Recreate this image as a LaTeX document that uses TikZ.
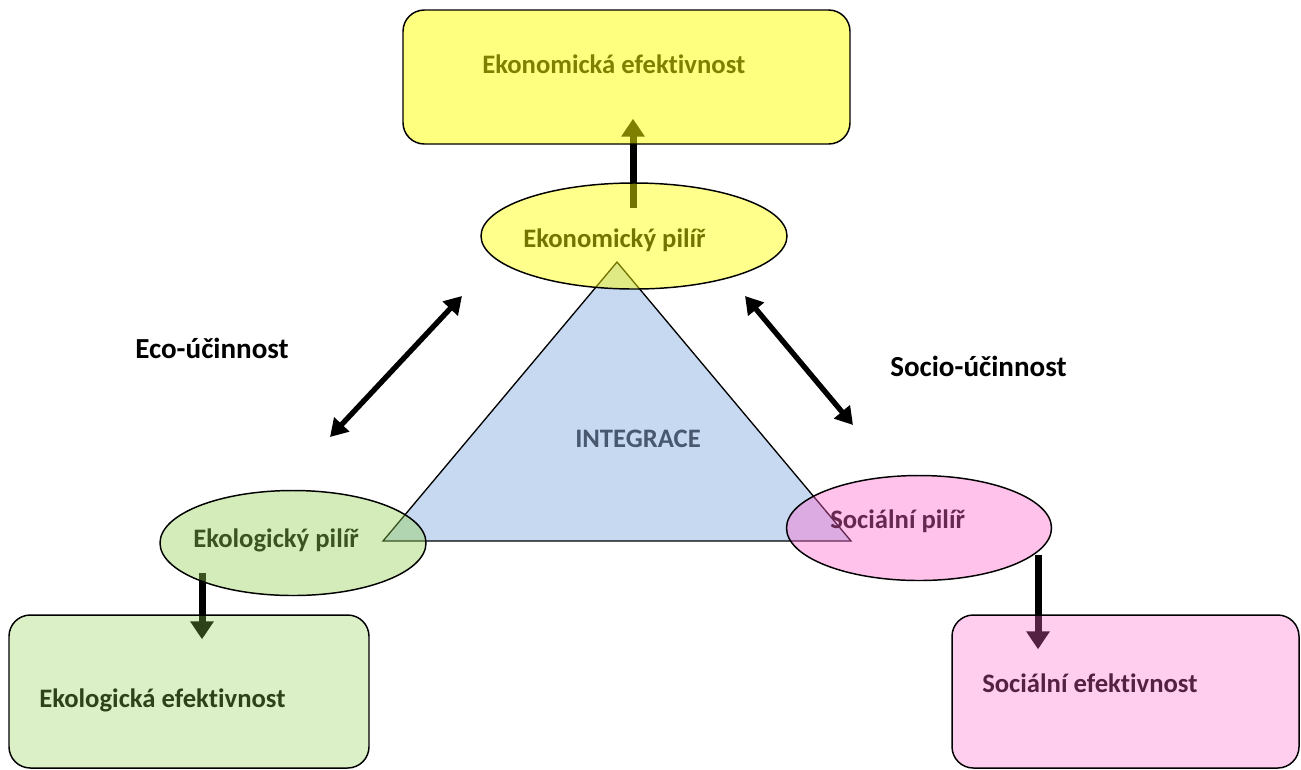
\documentclass[tikz,border=0pt]{standalone}
\usepackage{fontspec}
\setmainfont{Carlito}[Ligatures=NoCommon]
\usetikzlibrary{shapes.geometric,arrows.meta,calc}
\pgfdeclarelayer{under}
\pgfsetlayers{under,main}
\definecolor{pyellow}{RGB}{255,255,0}
\definecolor{pgreen}{RGB}{146,208,80}
\definecolor{ppink}{RGB}{255,102,204}
\definecolor{tribg}{RGB}{198,217,241}
\definecolor{intxt}{RGB}{72,88,110}
\tikzset{
  pillar/.style={ellipse, draw=black, line width=1.1pt, inner sep=0pt},
  effbox/.style={rectangle, rounded corners=16pt, draw=black, line width=1.1pt, inner sep=0pt},
  lbl/.style={inner sep=0pt, anchor=base west, font=\bfseries\fontsize{20}{24}\selectfont},
  biglbl/.style={lbl, font=\bfseries\fontsize{21.8}{26}\selectfont},
  flowarrow/.style={line width=5.25pt, -{Triangle[width=17pt,length=13.5pt]}},
  linkarrow/.style={line width=4pt, {Triangle[width=15pt,length=13pt]}-{Triangle[width=15pt,length=13pt]}}
}
\begin{document}
\begin{tikzpicture}[x=0.75pt,y=-0.75pt]
\useasboundingbox (0,0) rectangle (1301,769);

% translucent pillars and result boxes
\node[effbox, fill=pyellow, fill opacity=0.5, minimum width=335.25pt, minimum height=100.5pt] (ekoneff) at (626.5,77) {};
\node[effbox, fill=pgreen, fill opacity=0.32, minimum width=270pt, minimum height=114.75pt] (ekoleff) at (189,691.5) {};
\node[effbox, fill=ppink, fill opacity=0.33, minimum width=260.25pt, minimum height=114.75pt] (soceff) at (1125.5,691.5) {};
\node[pillar, fill=pyellow, fill opacity=0.45, minimum width=229.5pt, minimum height=79.5pt] (ekonp) at (634,236) {};
\node[pillar, fill=pgreen, fill opacity=0.4, minimum width=199.5pt, minimum height=78.75pt] (ekolp) at (293,543) {};
\node[pillar, fill=ppink, fill opacity=0.4, minimum width=198.75pt, minimum height=78.75pt] (socp) at (919,528) {};

\begin{pgfonlayer}{under}
  % integration triangle
  \draw[fill=tribg, line width=1pt, line join=miter] (617,262) -- (383,541) -- (851,541) -- cycle;
  \node[lbl, text=intxt] (integ) at (575,447) {INTEGRACE};

  % texts lying below the translucent fills
  \node[lbl] (tekoneff) at (482,73) {Ekonomická efektivnost};
  \node[lbl] (tekonp) at (523,247) {Ekonomický pilíř};
  \node[lbl] (tekolp) at (193,547) {Ekologický pilíř};
  \node[lbl] (tsocp) at (830,528) {Sociální pilíř};
  \node[lbl] (tekoleff) at (39,707) {Ekologická efektivnost};
  \node[lbl] (tsoceff) at (982,692) {Sociální efektivnost};

  % flows from each pillar to its efficiency
  \draw[flowarrow] ($(ekonp.center)+(-1,-28)$) -- ($(ekoneff.south)+(6.5,-26)$);
  \draw[flowarrow] ($(ekolp.center)+(-91,30)$) -- ($(ekoleff.north)+(13,25)$);
  \draw[flowarrow] ($(socp.center)+(119,27)$) -- ($(soceff.north)+(-87.5,35)$);

  % mutual links between pillars
  \draw[linkarrow] ($(ekonp.center)+(-172,60)$) -- ($(ekolp.center)+(37,-106)$);
  \draw[linkarrow] ($(ekonp.center)+(111,60)$) -- ($(socp.center)+(-66,-103)$);
\end{pgfonlayer}

\node[biglbl] (ecoeff) at (135,358) {Eco-účinnost};
\node[biglbl] (socioeff) at (890,376) {Socio-účinnost};
\end{tikzpicture}
\end{document}
